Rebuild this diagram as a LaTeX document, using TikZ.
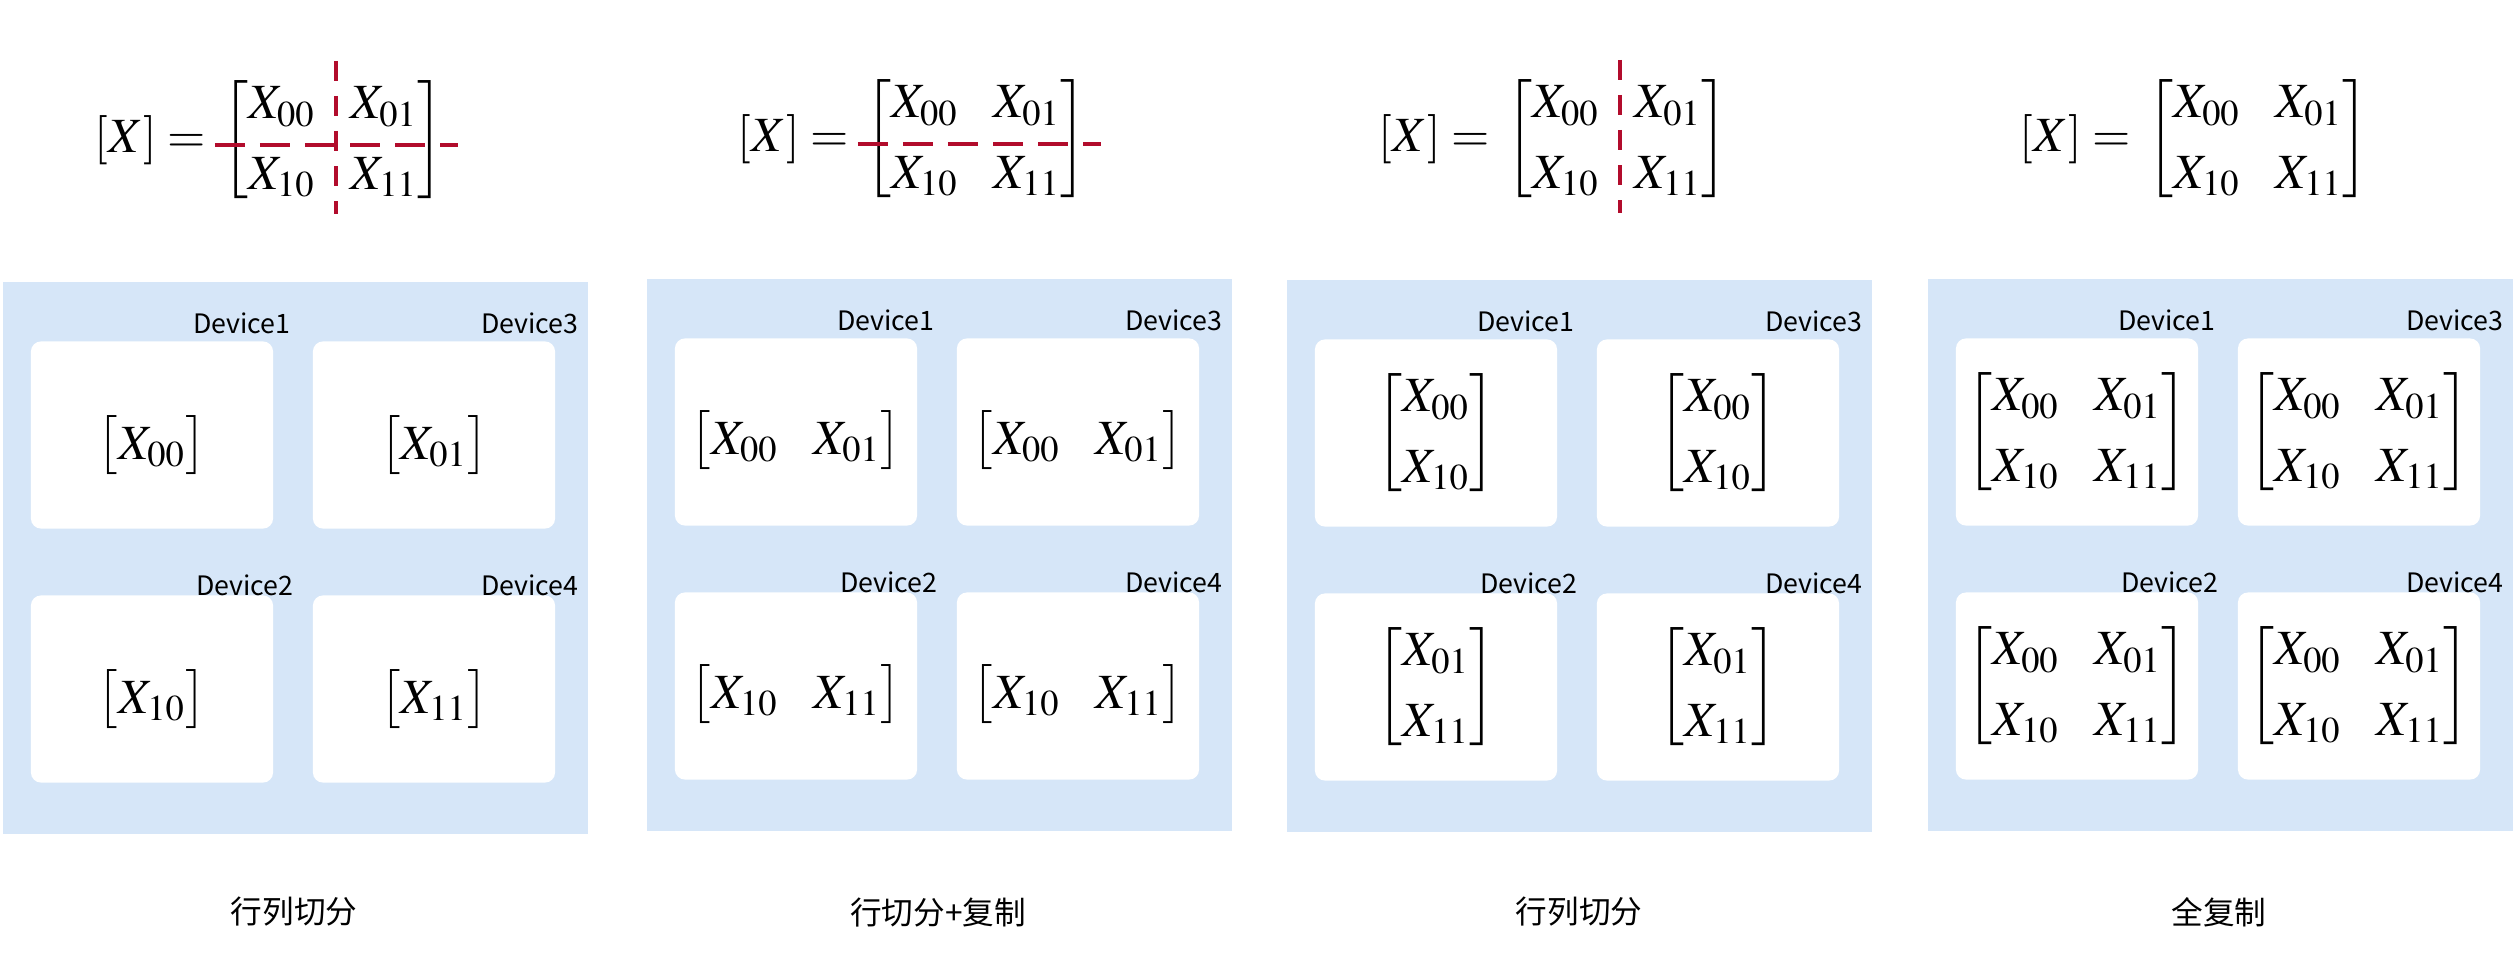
\documentclass[tikz,border=0pt]{standalone}
\usepackage{amsmath}
\usepackage{mathptmx}
\usepackage[no-math]{fontspec}
\newfontfamily\cjkfont{Noto Sans CJK SC}
\usetikzlibrary{positioning}
\definecolor{panelblue}{RGB}{214,230,248}
\definecolor{cutred}{RGB}{178,12,44}
\newcommand{\fullmat}{\begin{bmatrix} X_{00} & X_{01}\\ X_{10} & X_{11}\end{bmatrix}}
\newcommand{\onemat}[1]{\begin{bmatrix} #1 \end{bmatrix}}
\newcommand{\rowmat}[2]{\begin{bmatrix} #1 & #2 \end{bmatrix}}
\newcommand{\colmat}[2]{\begin{bmatrix} #1 \\ #2 \end{bmatrix}}
\delimiterfactor=800
\delimitershortfall=10pt
\begin{document}
\begin{tikzpicture}[x=0.01cm, y=-0.01cm,
  panel/.style={fill=panelblue, inner sep=0, minimum width=5.85cm, minimum height=5.52cm, anchor=north west},
  devbox/.style={fill=white, rounded corners=0.1cm, inner sep=0, minimum width=2.42cm, minimum height=1.87cm},
  devname/.style={font=\cjkfont\fontsize{7.6}{9}\selectfont, anchor=base east, inner sep=0},
  mat/.style={font=\fontsize{14}{20}\selectfont, inner sep=0},
  cut/.style={draw=cutred, line width=1.15pt},
  caption/.style={font=\cjkfont\fontsize{9}{11}\selectfont, inner sep=0}]
\useasboundingbox (0,0) rectangle (2518,954);
% rows and columns split
\begin{scope}[shift={(2,281)}]
\node[panel] (p1) at (0,0) {};
\node[devbox] (p1b1) at (150,154) {};
\node[devbox] (p1b2) at (150,408) {};
\node[devbox] (p1b3) at (432,154) {};
\node[devbox] (p1b4) at (432,408) {};
\node[devname] (p1n1) at (289,52) {Device1};
\node[devname] (p1n2) at (292,314) {Device2};
\node[devname] (p1n3) at (577,52) {Device3};
\node[devname] (p1n4) at (577,314) {Device4};
\node[mat] (p1m1) at ([yshift=-0.1cm]p1b1.center) {$\onemat{X_{00}}$};
\node[mat] (p1m2) at ([yshift=-0.1cm]p1b2.center) {$\onemat{X_{10}}$};
\node[mat] (p1m3) at ([yshift=-0.1cm]p1b3.center) {$\onemat{X_{01}}$};
\node[mat] (p1m4) at ([yshift=-0.1cm]p1b4.center) {$\onemat{X_{11}}$};
\node[mat] (p1top) at (331,-141) {$\fullmat$};
\node[mat, anchor=east] (p1lhs) at ([xshift=-0.15cm]p1top.west) {$[X] =$};
\draw[cut, dash pattern=on 0.3cm off 0.15cm] ([xshift=-1.18cm,yshift=-0.05cm]p1top.center) -- ([xshift=1.25cm,yshift=-0.05cm]p1top.center);
\draw[cut, dash pattern=on 0.2cm off 0.15cm] ([xshift=0.03cm,yshift=0.79cm]p1top.center) -- ([xshift=0.03cm,yshift=-0.74cm]p1top.center);
\node[caption] (p1cap) at (292,631) {行列切分};
\end{scope}
% row split + copy
\begin{scope}[shift={(646,278)}]
\node[panel] (p2) at (0,0) {};
\node[devbox] (p2b1) at (150,154) {};
\node[devbox] (p2b2) at (150,408) {};
\node[devbox] (p2b3) at (432,154) {};
\node[devbox] (p2b4) at (432,408) {};
\node[devname] (p2n1) at (289,52) {Device1};
\node[devname] (p2n2) at (292,314) {Device2};
\node[devname] (p2n3) at (577,52) {Device3};
\node[devname] (p2n4) at (577,314) {Device4};
\node[mat] (p2m1) at ([yshift=-0.08cm]p2b1.center) {$\rowmat{X_{00}}{X_{01}}$};
\node[mat] (p2m2) at ([yshift=-0.08cm]p2b2.center) {$\rowmat{X_{10}}{X_{11}}$};
\node[mat] (p2m3) at ([yshift=-0.08cm]p2b3.center) {$\rowmat{X_{00}}{X_{01}}$};
\node[mat] (p2m4) at ([yshift=-0.08cm]p2b4.center) {$\rowmat{X_{10}}{X_{11}}$};
\node[mat] (p2top) at (330,-139) {$\fullmat$};
\node[mat, anchor=east] (p2lhs) at ([xshift=-0.15cm]p2top.west) {$[X] =$};
\draw[cut, dash pattern=on 0.3cm off 0.15cm] ([xshift=-1.18cm,yshift=-0.05cm]p2top.center) -- ([xshift=1.25cm,yshift=-0.05cm]p2top.center);
\node[caption] (p2cap) at (292,634) {行切分+复制};
\end{scope}
% rows and columns split
\begin{scope}[shift={(1286,279)}]
\node[panel] (p3) at (0,0) {};
\node[devbox] (p3b1) at (150,154) {};
\node[devbox] (p3b2) at (150,408) {};
\node[devbox] (p3b3) at (432,154) {};
\node[devbox] (p3b4) at (432,408) {};
\node[devname] (p3n1) at (289,52) {Device1};
\node[devname] (p3n2) at (292,314) {Device2};
\node[devname] (p3n3) at (577,52) {Device3};
\node[devname] (p3n4) at (577,314) {Device4};
\node[mat] (p3m1) at (p3b1.center) {$\colmat{X_{00}}{X_{10}}$};
\node[mat] (p3m2) at (p3b2.center) {$\colmat{X_{01}}{X_{11}}$};
\node[mat] (p3m3) at (p3b3.center) {$\colmat{X_{00}}{X_{10}}$};
\node[mat] (p3m4) at (p3b4.center) {$\colmat{X_{01}}{X_{11}}$};
\node[mat] (p3top) at (331,-140) {$\fullmat$};
\node[mat, anchor=east] (p3lhs) at ([xshift=-0.15cm]p3top.west) {$[X] =$};
\draw[cut, dash pattern=on 0.2cm off 0.15cm] ([xshift=0.03cm,yshift=0.79cm]p3top.center) -- ([xshift=0.03cm,yshift=-0.74cm]p3top.center);
\node[caption] (p3cap) at (293,633) {行列切分};
\end{scope}
% full copy
\begin{scope}[shift={(1927,278)}]
\node[panel] (p4) at (0,0) {};
\node[devbox] (p4b1) at (150,154) {};
\node[devbox] (p4b2) at (150,408) {};
\node[devbox] (p4b3) at (432,154) {};
\node[devbox] (p4b4) at (432,408) {};
\node[devname] (p4n1) at (289,52) {Device1};
\node[devname] (p4n2) at (292,314) {Device2};
\node[devname] (p4n3) at (577,52) {Device3};
\node[devname] (p4n4) at (577,314) {Device4};
\node[mat] (p4m1) at (p4b1.center) {$\fullmat$};
\node[mat] (p4m2) at (p4b2.center) {$\fullmat$};
\node[mat] (p4m3) at (p4b3.center) {$\fullmat$};
\node[mat] (p4m4) at (p4b4.center) {$\fullmat$};
\node[mat] (p4top) at (331,-139) {$\fullmat$};
\node[mat, anchor=east] (p4lhs) at ([xshift=-0.15cm]p4top.west) {$[X] =$};
\node[caption] (p4cap) at (292,634) {全复制};
\end{scope}
\end{tikzpicture}
\end{document}
